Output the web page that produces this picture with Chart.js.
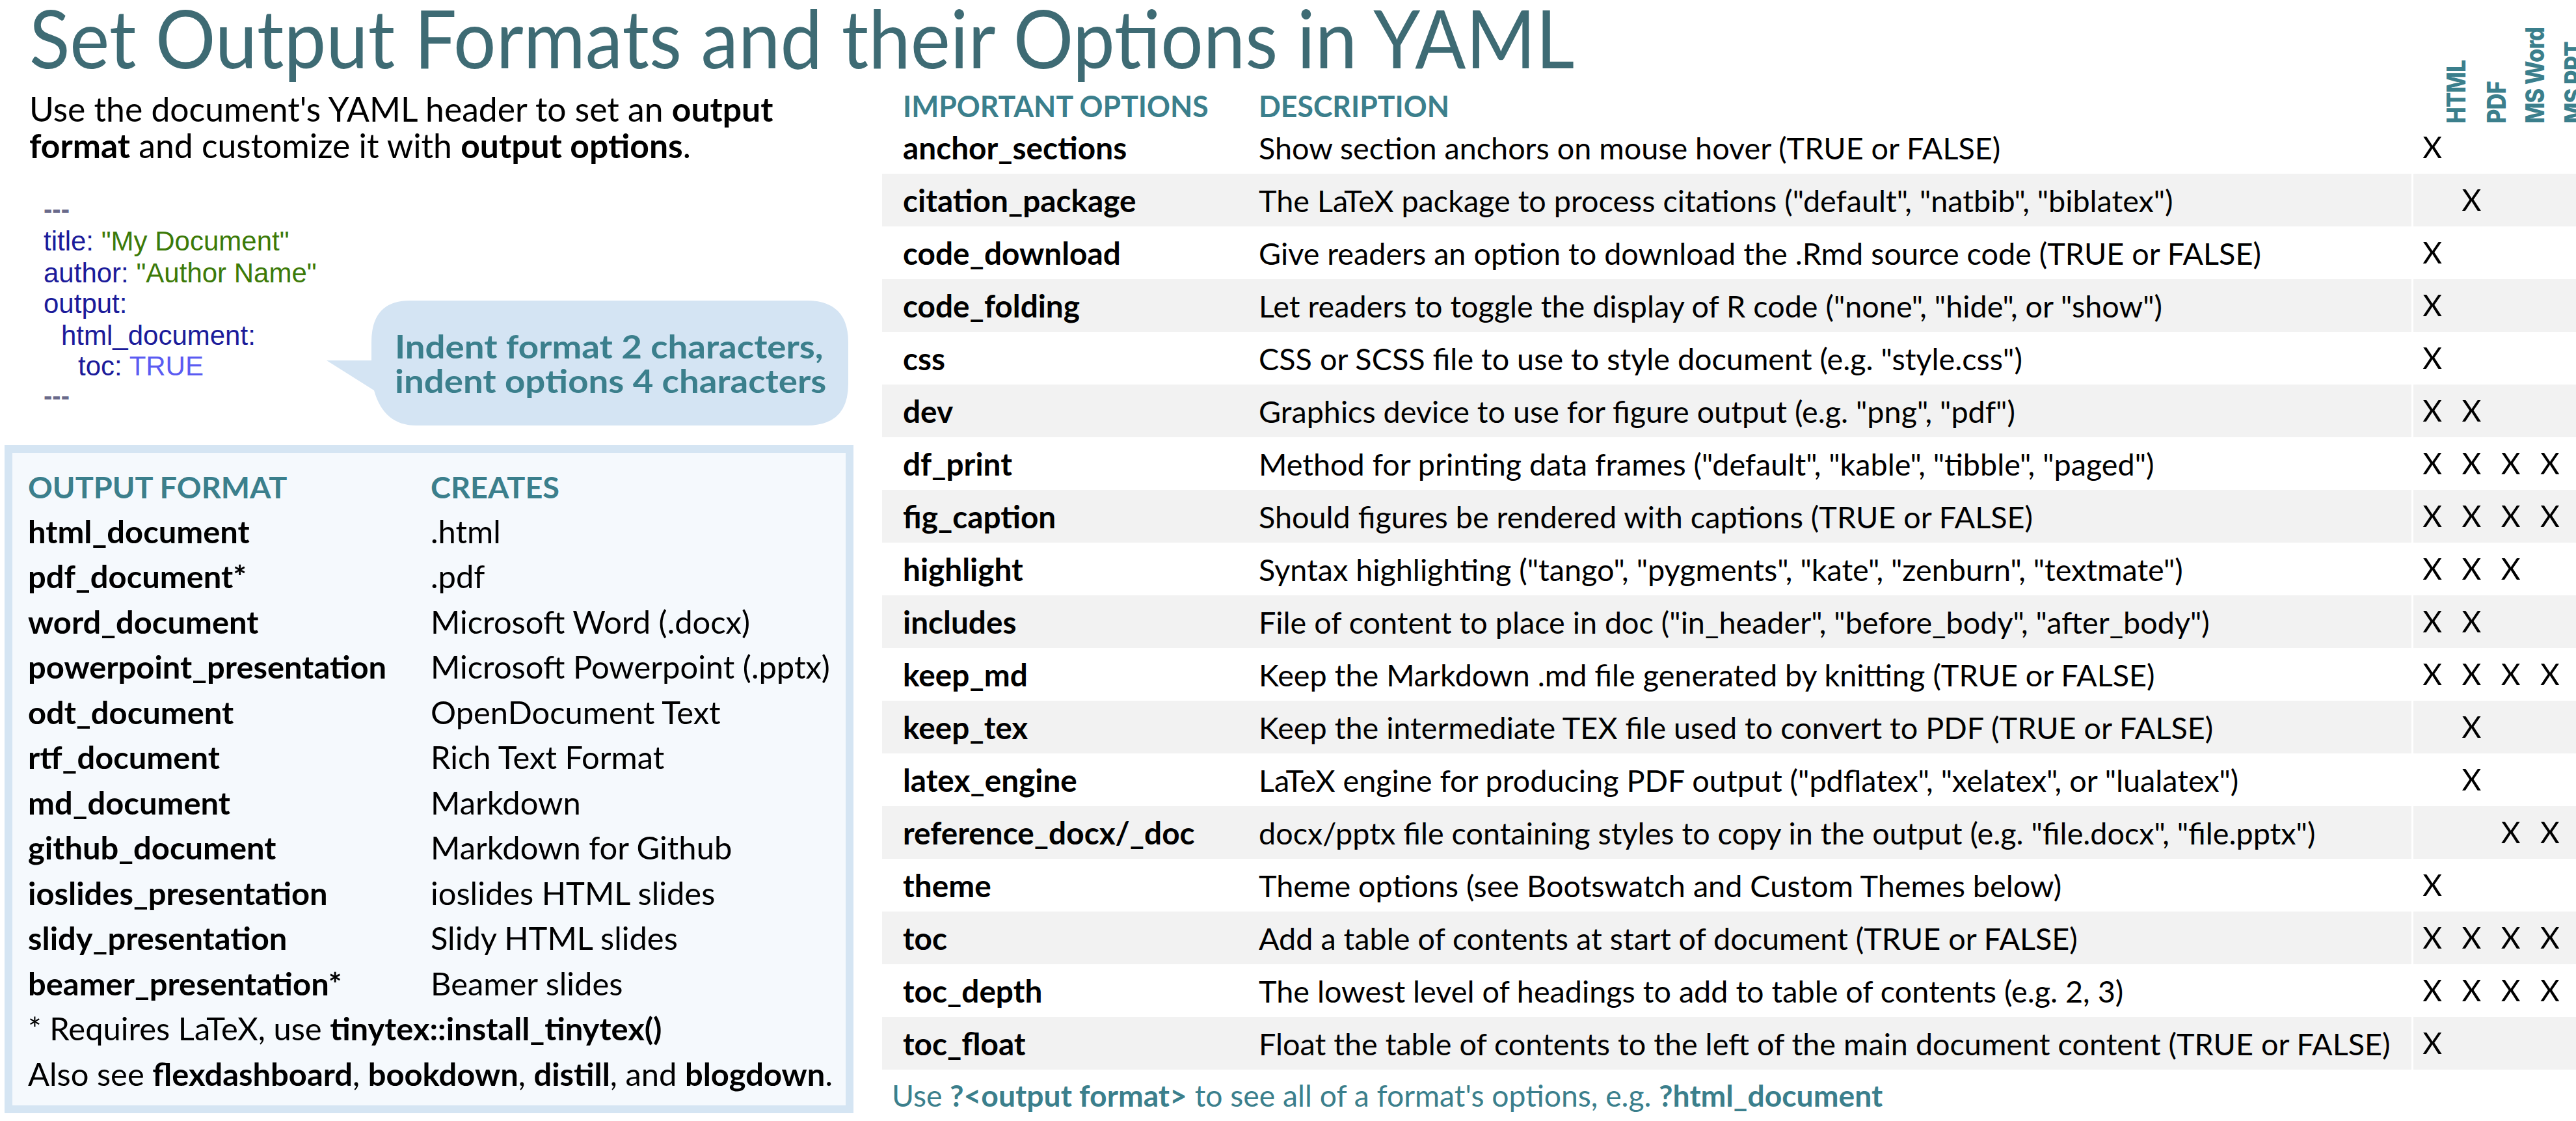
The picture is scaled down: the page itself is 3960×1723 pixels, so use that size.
<!DOCTYPE html>
<html><head><meta charset="utf-8">
<script src="https://cdn.jsdelivr.net/npm/chart.js@4/dist/chart.umd.min.js"></script>
<style>
html,body{margin:0;padding:0;background:#fff;}
#page{position:relative;width:3960px;height:1723px;overflow:hidden;font-family:Lato,"Noto Sans",sans-serif;color:#000;}
.t{position:absolute;white-space:nowrap;display:inline-block;transform-origin:0 0;line-height:1;}
b{font-weight:700;}
</style></head>
<body><div id="page"></div>
<script>
// ---------- data ----------
const options = ["anchor_sections","citation_package","code_download","code_folding","css","dev","df_print","fig_caption","highlight","includes","keep_md","keep_tex","latex_engine","reference_docx/_doc","theme","toc","toc_depth","toc_float"];
const descriptions = [
 'Show section anchors on mouse hover (TRUE or FALSE)',
 'The LaTeX package to process citations ("default", "natbib", "biblatex")',
 'Give readers an option to download the .Rmd source code (TRUE or FALSE)',
 'Let readers to toggle the display of R code ("none", "hide", or "show")',
 'CSS or SCSS file to use to style document (e.g. "style.css")',
 'Graphics device to use for figure output (e.g. "png", "pdf")',
 'Method for printing data frames ("default", "kable", "tibble", "paged")',
 'Should figures be rendered with captions (TRUE or FALSE)',
 'Syntax highlighting ("tango", "pygments", "kate", "zenburn", "textmate")',
 'File of content to place in doc ("in_header", "before_body", "after_body")',
 'Keep the Markdown .md file generated by knitting (TRUE or FALSE)',
 'Keep the intermediate TEX file used to convert to PDF (TRUE or FALSE)',
 'LaTeX engine for producing PDF output ("pdflatex", "xelatex", or "lualatex")',
 'docx/pptx file containing styles to copy in the output (e.g. "file.docx", "file.pptx")',
 'Theme options (see Bootswatch and Custom Themes below)',
 'Add a table of contents at start of document (TRUE or FALSE)',
 'The lowest level of headings to add to table of contents (e.g. 2, 3)',
 'Float the table of contents to the left of the main document content (TRUE or FALSE)'];
const formatsCols = ["HTML","PDF","MS Word","MS PPT"];
const htmlSupport = [1,0,1,1,1,1,1,1,1,1,1,0,0,0,1,1,1,1];
const pdfSupport  = [0,1,0,0,0,1,1,1,1,1,1,1,1,0,0,1,1,0];
const wordSupport = [0,0,0,0,0,0,1,1,1,0,1,0,0,1,0,1,1,0];
const pptSupport  = [0,0,0,0,0,0,1,1,0,0,1,0,0,1,0,1,1,0];
const outFormats = ["html_document","pdf_document*","word_document","powerpoint_presentation","odt_document","rtf_document","md_document","github_document","ioslides_presentation","slidy_presentation","beamer_presentation*"];
const creates = [".html",".pdf","Microsoft Word (.docx)","Microsoft Powerpoint (.pptx)","OpenDocument Text","Rich Text Format","Markdown","Markdown for Github","ioslides HTML slides","Slidy HTML slides","Beamer slides"];

// ---------- layout ----------
const P=document.getElementById('page');
const TEAL='#3b7f8c', TITLE='#3e6b74';
function el(tag,css,html,cls){const e=document.createElement(tag);e.style.cssText=css;if(html!=null)e.innerHTML=html;if(cls)e.className=cls;P.appendChild(e);return e;}
function txt(x,base,size,html,extra,cls){return el('div',`left:${x}px;top:${base-size*0.8}px;font-size:${size}px;${extra||''}`,html,'t '+(cls||''));}
function fit(ref,target,cls){const s=target/ref.scrollWidth;document.querySelectorAll('.'+cls).forEach(e=>e.style.transform=`scaleX(${s})`);}

// title
const title=txt(45,94,124,'Set Output Formats and their Options in YAML',`color:${TITLE};`,'ttl');
// intro
const i1=txt(45,183,52,'Use the document\'s YAML header to set an <b>output</b>','','intro');
txt(45,239,52,'<b>format</b> and customize it with <b>output options</b>.','','intro');
// yaml
const Y='font-family:"Liberation Sans",Arial,sans-serif;';
const N='#1b1b9a',G='#3c7a08';
txt(67,333,40,'---',Y+'color:#6a6a8a;font-weight:700;');
txt(67,384,42,`<span style="color:${N}">title:</span> <span style="color:${G}">"My Document"</span>`,Y);
txt(67,433,42,`<span style="color:${N}">author:</span> <span style="color:${G}">"Author Name"</span>`,Y);
txt(67,480,42,`<span style="color:${N}">output:</span>`,Y);
txt(94,529,42,`<span style="color:${N}">html_document:</span>`,Y);
txt(120,576,42,`<span style="color:${N}">toc:</span> <span style="color:#5b5bf2">TRUE</span>`,Y);
txt(67,620,40,'---',Y+'color:#6a6a8a;font-weight:700;');
// bubble
const svg=document.createElementNS('http://www.w3.org/2000/svg','svg');
svg.setAttribute('style','position:absolute;left:0;top:0');svg.setAttribute('width',3960);svg.setAttribute('height',1723);
svg.innerHTML='<path d="M630 462 H1240 Q1304 462 1304 526 V590 Q1304 654 1240 654 H640 Q590 654 575 600 L502 554 H571 V526 Q571 462 630 462 Z" fill="#d4e4f3"/>';
P.appendChild(svg);
const b1=txt(607,547,50,'Indent format 2 characters,',`color:${TEAL};font-weight:700;`,'bub');
txt(607,600,50,'indent options 4 characters',`color:${TEAL};font-weight:700;`,'bub');
// left box
el('div','position:absolute;left:7px;top:684px;width:1281px;height:1003px;border:12px solid #d5e5f3;background:#f5f9fd;');
txt(43,763,46,'OUTPUT FORMAT',`color:${TEAL};font-weight:700;`,'lh');
txt(662,763,46,'CREATES',`color:${TEAL};font-weight:700;`,'lh');
let refL;
outFormats.forEach((f,i)=>{const b=831+i*69.5;const a=txt(43,b,48,f,'font-weight:700;','lt');txt(662,b,48,creates[i],'','lt');if(i==3)refL=a;});
txt(43,831+11*69.5,48,'* Requires LaTeX, use <b>tinytex::install_tinytex()</b>','','lt');
txt(43,831+12*69.5,48,'Also see <b>flexdashboard</b>, <b>bookdown</b>, <b>distill</b>, and <b>blogdown</b>.','','lt');
// right table
const TOP=186,RH=81;
options.forEach((o,i)=>{if(i%2==1)el('div',`position:absolute;left:1356px;top:${TOP+i*RH}px;width:2604px;height:${RH}px;background:#f2f2f2;`);});
el('div',`position:absolute;left:3707px;top:${TOP}px;width:3px;height:${RH*18}px;background:#fff;`);
const h1=txt(1388,177,45,'IMPORTANT OPTIONS',`color:${TEAL};font-weight:700;`,'rh');
txt(1935,177,45,'DESCRIPTION',`color:${TEAL};font-weight:700;`,'rh');
let refO,refD;
options.forEach((o,i)=>{const b=TOP+i*RH+56;const a=txt(1388,b,47,o,'font-weight:700;','ro');const d=txt(1935,b,47,descriptions[i],'','rd');if(i==13)refO=a;if(i==17)refD=d;});
const foot=txt(1371,1698,46,'Use <b>?&lt;output format&gt;</b> to see all of a format\'s options, e.g. <b>?html_document</b>',`color:${TEAL};`,'ft');
// rotated column headers
const colX=[3739,3801,3860,3920];
formatsCols.forEach((c,i)=>{el('div',`position:absolute;left:${colX[i]+17}px;top:190px;font-family:Inter,"DejaVu Sans",sans-serif;font-weight:800;font-size:40px;letter-spacing:-1px;color:${TEAL};white-space:nowrap;transform-origin:0 0;transform:rotate(-90deg) scaleX(0.86);line-height:1;`,c);});

fit(title,2375,'ttl');fit(i1,1143,'intro');fit(b1,659,'bub');fit(refL,551,'lt');fit(h1,470,'rh');fit(refO,449,'ro');fit(refD,1740,'rd');fit(foot,1523,'ft');
document.querySelectorAll('.lh').forEach(e=>e.style.transform=refL.style.transform);

// ---------- chart for X marks ----------
const cv=document.createElement('canvas');
const wrap=el('div',`position:absolute;left:3709px;top:${TOP}px;width:241px;height:${RH*18}px;`);
wrap.appendChild(cv);
const series=[htmlSupport,pdfSupport,wordSupport,pptSupport];
const pts=[];
series.forEach((s,ci)=>s.forEach((v,ri)=>{if(v)pts.push({x:formatsCols[ci],y:options[ri]});}));
const xMark={id:'xMark',afterDatasetsDraw(ch){const c=ch.ctx;c.save();c.fillStyle='#000';c.font='46px Lato, "Noto Sans", sans-serif';c.textAlign='center';c.textBaseline='middle';
 ch.getDatasetMeta(0).data.forEach(p=>c.fillText('X',p.x,p.y+2));c.restore();}};
new Chart(cv,{type:'scatter',data:{datasets:[{data:pts,pointRadius:0}]},
 options:{responsive:true,maintainAspectRatio:false,animation:false,events:[],
  layout:{padding:0},
  plugins:{legend:{display:false},tooltip:{enabled:false}},
  scales:{x:{type:'category',labels:formatsCols,offset:true,display:false},
          y:{type:'category',labels:options,offset:true,display:false}}},
 plugins:[xMark]});
</script></body></html>
